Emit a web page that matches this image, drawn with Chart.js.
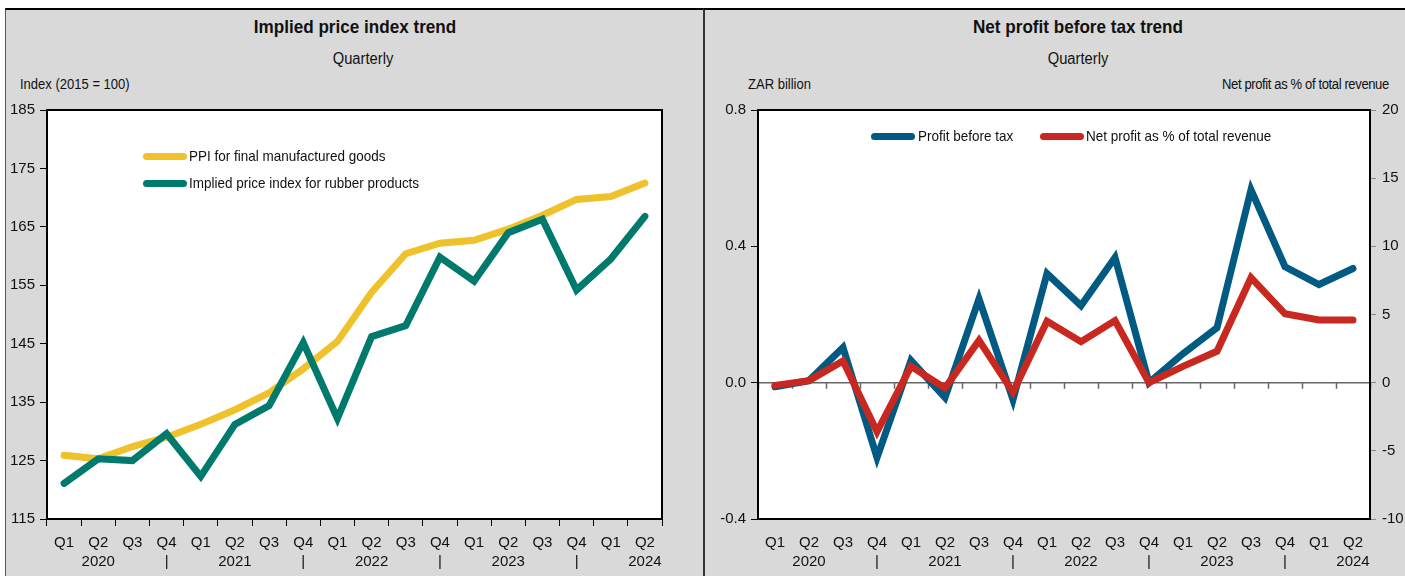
<!DOCTYPE html>
<html>
<head>
<meta charset="utf-8">
<script src="https://cdn.jsdelivr.net/npm/chart.js@4.4.1/dist/chart.umd.min.js"></script>
<style>
    body { margin: 0; width: 1405px; height: 576px; background: #fff; overflow: hidden;
           font-family: 'Liberation Sans Narrow', 'Liberation Sans', Arial, sans-serif; color: #111; }
    .panel { position: absolute; top: 8px; height: 568px; background: #d9d9d9; border-top: 2px solid #000; box-sizing: border-box; }
    #panelLeft { left: 5px; width: 698px; border-left: 1px solid #555; }
    #panelRight { left: 703px; width: 702px; border-left: 2px solid #333; }
    .txt { position: absolute; white-space: nowrap; line-height: 1; }
    .title { font-weight: bold; font-size: 19px; transform: translateX(-50%) scaleX(0.9); }
    .sub { font-size: 16px; transform: translateX(-50%) scaleX(0.92); }
    .unit { font-size: 14px; transform: scaleX(0.93); transform-origin: left top; }
    .swatch { position: absolute; height: 7px; width: 44px; border-radius: 3.5px; }
    .leg { position: absolute; font-size: 14.5px; white-space: nowrap; line-height: 1; transform: scaleX(0.93); transform-origin: left top; }
    canvas { position: absolute; }
</style>
</head>
<body>
<div class="panel" id="panelLeft"></div>
<div class="panel" id="panelRight"></div>

<div class="txt title" style="left:355px; top:17px;">Implied price index trend</div>
<div class="txt sub" style="left:363px; top:51px;">Quarterly</div>
<div class="txt unit" style="left:20px; top:77px;">Index (2015 = 100)</div>

<div class="txt title" style="left:1078px; top:17px;">Net profit before tax trend</div>
<div class="txt sub" style="left:1078px; top:51px;">Quarterly</div>
<div class="txt unit" style="left:748px; top:77px;">ZAR billion</div>
<div class="txt unit" style="left:1222px; top:77px; letter-spacing:-0.4px;">Net profit as % of total revenue</div>

<canvas id="priceChart" width="695" height="481" style="left:5px; top:95px;"></canvas>
<canvas id="profitChart" width="700" height="481" style="left:705px; top:95px;"></canvas>

<!-- legends -->
<div class="swatch" style="left:143px; top:153px; background:#efc22b;"></div>
<div class="leg" style="left:189px; top:149px;">PPI for final manufactured goods</div>
<div class="swatch" style="left:143px; top:180px; background:#007a6c;"></div>
<div class="leg" style="left:189px; top:176px;">Implied price index for rubber products</div>

<div class="swatch" style="left:871px; top:133px; background:#005a82;"></div>
<div class="leg" style="left:918px; top:129px;">Profit before tax</div>
<div class="swatch" style="left:1040px; top:133px; background:#c8281f;"></div>
<div class="leg" style="left:1086px; top:129px;">Net profit as % of total revenue</div>

<script>
// Categories
var quarters = ['Q1', 'Q2', 'Q3', 'Q4', 'Q1', 'Q2', 'Q3', 'Q4', 'Q1', 'Q2', 'Q3', 'Q4', 'Q1', 'Q2', 'Q3', 'Q4', 'Q1', 'Q2'];
var yearRow = ['', '2020', '', '|', '', '2021', '', '|', '', '2022', '', '|', '', '2023', '', '|', '', '2024'];

// Left chart series (Index 2015 = 100)
var ppiFinal = [125.9, 125.3, 127.4, 129.0, 131.2, 133.7, 136.6, 140.7, 145.4, 153.8, 160.4, 162.2, 162.7, 164.6, 167.0, 169.7, 170.2, 172.5];
var rubberIndex = [121.1, 125.3, 125.0, 129.6, 122.3, 131.2, 134.4, 145.2, 132.2, 146.2, 148.1, 159.8, 155.7, 164.0, 166.3, 154.2, 159.5, 166.8];

// Right chart series
var profitBeforeTax = [-0.012, 0.006, 0.103, -0.22, 0.065, -0.044, 0.246, -0.05, 0.32, 0.226, 0.367, 0.0, 0.085, 0.161, 0.566, 0.34, 0.288, 0.335];
var netProfitPct = [-0.2, 0.15, 1.6, -3.6, 1.2, -0.4, 3.1, -0.7, 4.5, 3.0, 4.55, 0.0, 1.2, 2.3, 7.7, 5.05, 4.6, 4.6];

// Axis ranges
var priceTicks = { min: 115, max: 185, step: 10 };
var zarTicks = { min: -0.4, max: 0.8, step: 0.4 };
var pctTicks = { min: -10, max: 20, step: 5 };

var labels = quarters.map(function(q, i) { return [q, yearRow[i]]; });

Chart.defaults.font.family = "'Liberation Sans Narrow', 'Liberation Sans', Arial, sans-serif";
Chart.defaults.font.size = 15;
Chart.defaults.color = '#111';

// White plot area and the box around it
var plotBox = {
    id: 'plotBox',
    beforeDraw: function(chart) {
        var a = chart.chartArea, ctx = chart.ctx;
        ctx.save();
        ctx.fillStyle = '#fff';
        ctx.fillRect(a.left, a.top, a.right - a.left, a.bottom - a.top);
        ctx.restore();
    },
    afterDraw: function(chart) {
        var a = chart.chartArea, ctx = chart.ctx;
        ctx.save();
        ctx.strokeStyle = '#000';
        ctx.lineWidth = 2;
        ctx.strokeRect(a.left, a.top, a.right - a.left, a.bottom - a.top);
        ctx.restore();
    }
};

// Zero line with category tick marks (right chart)
var zeroLine = {
    id: 'zeroLine',
    beforeDatasetsDraw: function(chart) {
        var a = chart.chartArea, ctx = chart.ctx;
        var y0 = chart.scales.y.getPixelForValue(0);
        var xs = chart.scales.x;
        var half = (xs.getPixelForValue(1) - xs.getPixelForValue(0)) / 2;
        ctx.save();
        ctx.strokeStyle = '#666';
        ctx.lineWidth = 1.5;
        ctx.beginPath();
        ctx.moveTo(a.left, y0);
        ctx.lineTo(a.right, y0);
        for (var i = 0; i <= quarters.length; i++) {
            var x = Math.round(xs.getPixelForValue(0) - half + i * half * 2) + 0.5;
            ctx.moveTo(x, y0);
            ctx.lineTo(x, y0 + 6);
        }
        ctx.stroke();
        ctx.restore();
    }
};

function lineSet(label, data, color, order, axis) {
    return {
        label: label,
        data: data,
        borderColor: color,
        backgroundColor: color,
        borderWidth: 7,
        pointRadius: 0,
        tension: 0,
        borderCapStyle: 'round',
        order: order,
        yAxisID: axis || 'y'
    };
}

var xAxisBase = {
    type: 'category',
    offset: true,
    grid: { display: true, offset: true, drawOnChartArea: false, drawTicks: true, tickLength: 7, color: '#000', tickColor: '#000' },
    border: { display: true, color: '#000', width: 2 },
    ticks: { autoSkip: false, maxRotation: 0, padding: 7, font: { size: 15, lineHeight: 1.3 }, color: '#111' },
    afterFit: function(scale) { scale.height = 57; }
};

new Chart(document.getElementById('priceChart'), {
    type: 'line',
    data: {
        labels: labels,
        datasets: [
            lineSet('PPI for final manufactured goods', ppiFinal, '#efc22b', 1),
            lineSet('Implied price index for rubber products', rubberIndex, '#007a6c', 0)
        ]
    },
    options: {
        responsive: false,
        animation: false,
        devicePixelRatio: 1,
        layout: { padding: { top: 15, right: 38, left: 0, bottom: 0 } },
        plugins: { legend: { display: false }, tooltip: { enabled: false } },
        scales: {
            x: xAxisBase,
            y: {
                min: priceTicks.min,
                max: priceTicks.max,
                ticks: { stepSize: priceTicks.step, padding: 5, color: '#111' },
                grid: { drawOnChartArea: false, drawTicks: true, tickLength: 7, color: '#000' },
                border: { display: true, color: '#000', width: 2 },
                afterFit: function(scale) { scale.width = 42; }
            }
        }
    },
    plugins: [plotBox]
});

var xAxisRight = Object.assign({}, xAxisBase, {
    grid: { display: true, offset: true, drawOnChartArea: false, drawTicks: true, tickLength: 7, color: 'rgba(0,0,0,0)', tickColor: 'rgba(0,0,0,0)' }
});

new Chart(document.getElementById('profitChart'), {
    type: 'line',
    data: {
        labels: labels,
        datasets: [
            lineSet('Profit before tax', profitBeforeTax, '#005a82', 1, 'y'),
            lineSet('Net profit as % of total revenue', netProfitPct, '#c8281f', 0, 'y2')
        ]
    },
    options: {
        responsive: false,
        animation: false,
        devicePixelRatio: 1,
        layout: { padding: { top: 15, right: 0, left: 0, bottom: 0 } },
        plugins: { legend: { display: false }, tooltip: { enabled: false } },
        scales: {
            x: xAxisRight,
            y: {
                position: 'left',
                min: zarTicks.min,
                max: zarTicks.max,
                ticks: {
                    stepSize: zarTicks.step, padding: 5, color: '#111',
                    callback: function(v) { return Number(v).toFixed(1); }
                },
                grid: { drawOnChartArea: false, drawTicks: true, tickLength: 7, color: '#000' },
                border: { display: true, color: '#000', width: 2 },
                afterFit: function(scale) { scale.width = 53; }
            },
            y2: {
                position: 'right',
                min: pctTicks.min,
                max: pctTicks.max,
                ticks: { stepSize: pctTicks.step, padding: 6, color: '#111' },
                grid: { drawOnChartArea: false, drawTicks: true, tickLength: 6, color: '#888' },
                border: { display: true, color: '#444', width: 2 },
                afterFit: function(scale) { scale.width = 35; }
            }
        }
    },
    plugins: [zeroLine, plotBox]
});
</script>
</body>
</html>
